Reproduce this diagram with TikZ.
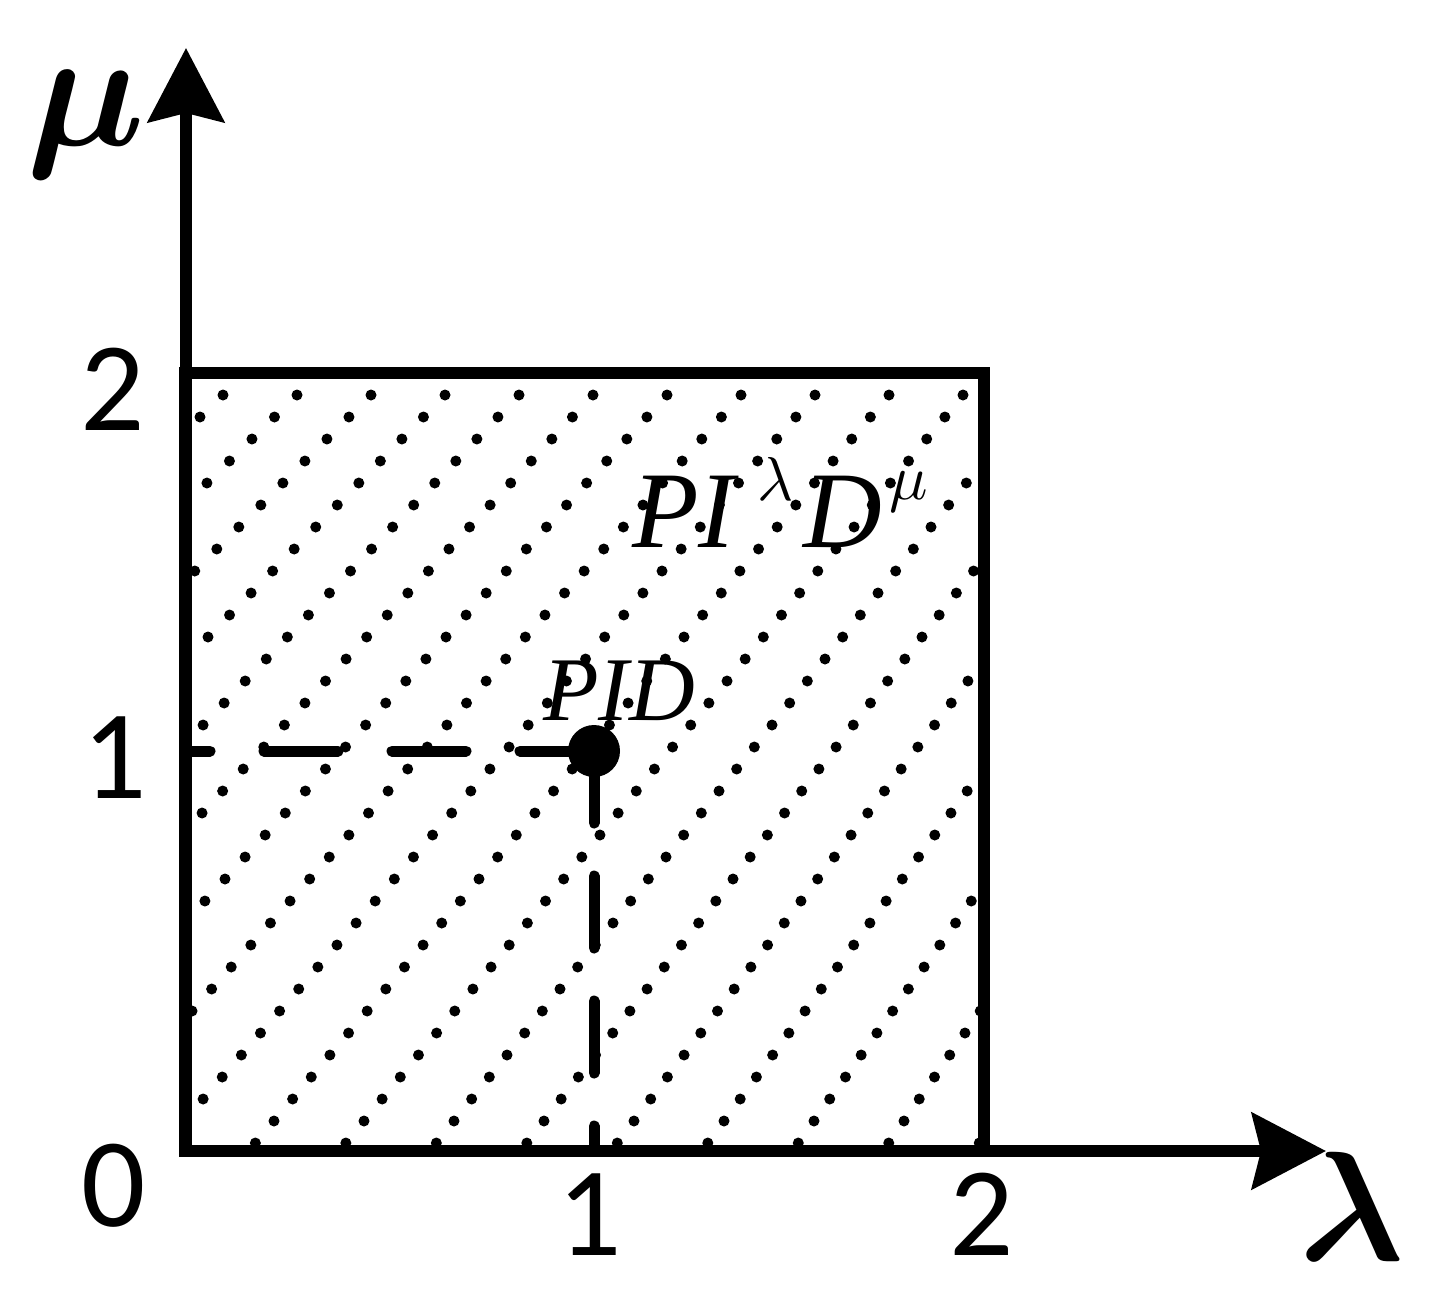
\documentclass[tikz,border=0pt]{standalone}
\usepackage{fontspec}
\usepackage{graphicx}
\setmainfont{Liberation Serif}
\newfontfamily\digitfont{Carlito}
\usetikzlibrary{arrows.meta}
\newcommand{\smallmath}[2]{\scalebox{#1}{\fontsize{10}{12}\selectfont$#2$}}
\newcommand{\boldgreek}[2]{\scalebox{#1}{\fontsize{10}{12}\selectfont\boldmath$#2$}}
\begin{document}
\begin{tikzpicture}[x=1pt,y=-1pt,
  axisline/.style={line width=11.5pt, -{Stealth[length=74pt,width=76pt,inset=9pt]}},
  boxline/.style={line width=11.5pt, line join=miter},
  guideh/.style={line width=11pt, line cap=round, dash pattern=on 74pt off 54pt},
  guidev/.style={line width=11pt, line cap=round, dash pattern=on 72pt off 53pt},
  tick/.style={font=\digitfont\fontsize{127}{127}\selectfont, anchor=base, inner sep=0pt},
  axlabel/.style={anchor=base, inner sep=0pt},
  region/.style={anchor=base west, inner sep=0pt, font=\fontsize{109}{109}\selectfont\itshape},
  pidtext/.style={anchor=base west, inner sep=0pt, font=\fontsize{91}{91}\selectfont\itshape},
  pidpoint/.style={circle, fill, inner sep=0pt, minimum size=52pt}
]
\useasboundingbox (0,0) rectangle (1441,1299);

% named points
\coordinate (O) at (186,1151);
\coordinate (ytip) at (186,48);
\coordinate (xtip) at (1326,1151);
\coordinate (TL) at (185,373);
\coordinate (BR) at (984,1151);
\coordinate (lx) at (186,751);
\coordinate (bx) at (594,1151);

% dotted fill
\begin{scope}
\clip (TL) rectangle (BR);
\foreach \j in {-1,...,36}{
  \pgfmathsetmacro\yy{395+22*\j}
  \pgfmathsetmacro\pp{74+16*\j/33}
  \foreach \i in {-2,...,22}{
    \pgfmathsetmacro\xx{223-23*\j+\pp*\i}
    \fill (\xx,\yy) circle[radius=5.5];
  }
}
\end{scope}

% square
\draw[boxline] (TL) rectangle (BR);

% axes
\draw[axisline] (O) -- (ytip);
\draw[axisline] (O) -- (xtip);

% PID point and guides
\node[pidpoint] (pid) at (594,751) {};
\draw[guideh] (pid.center) -- (lx);
\draw[guidev] (pid.center) -- (bx);

% tick labels
\node[tick] (t2y) at (113,430) {2};
\node[tick] (t1y) at (115,798) {1};
\node[tick] (t0) at (114,1226) {0};
\node[tick] (t1x) at (590,1255) {1};
\node[tick] (t2x) at (982,1255) {2};

% axis labels
\node[axlabel] (mu) at (86,145) {\boldgreek{16.8}{\mu}};
\node[axlabel] (lam) at (1352,1260) {\boldgreek{15.6}{\lambda}};

% region labels
\node[region] (pild) at (632,547) {PI\hspace{22pt}\raisebox{47pt}{\smallmath{6.2}{\lambda}}\hspace{10pt}D\hspace{8pt}\raisebox{48pt}{\smallmath{6.4}{\mu}}};
\node[pidtext] (pidlabel) at (543,720) {PID};
\end{tikzpicture}
\end{document}
